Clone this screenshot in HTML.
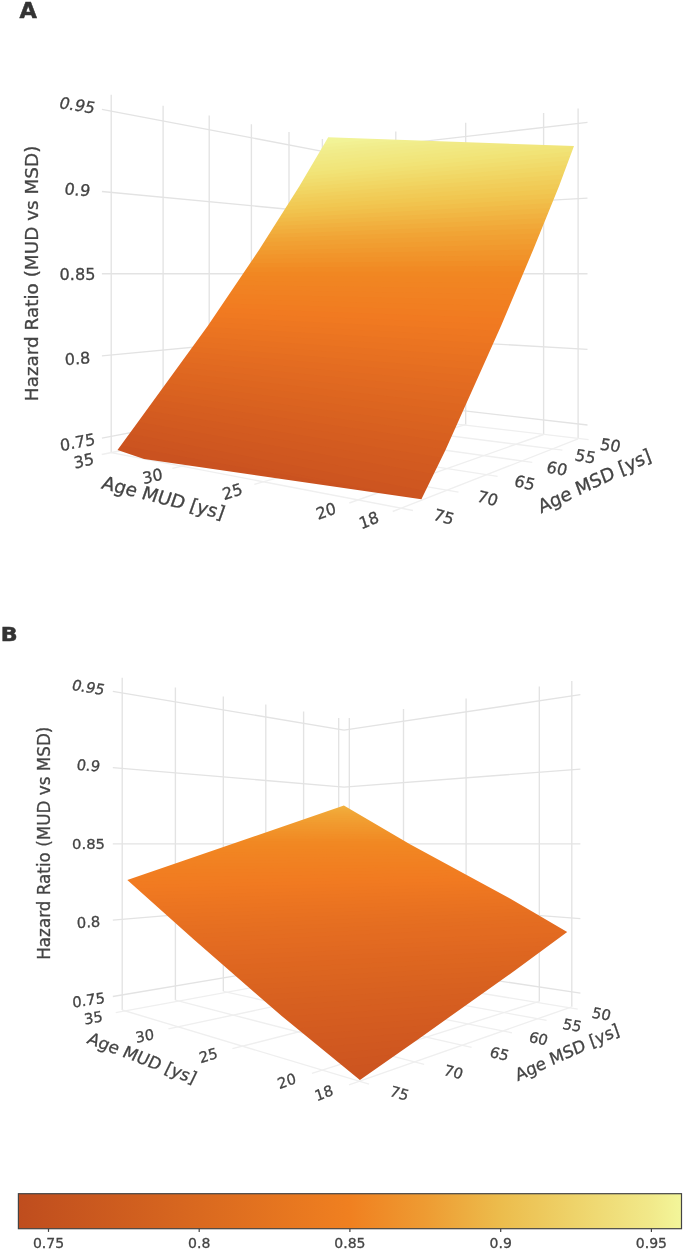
<!DOCTYPE html>
<html><head><meta charset="utf-8"><title>Figure</title>
<style>html,body{margin:0;padding:0;background:#fff}svg{display:block}</style></head>
<body>
<svg width="685" height="1251" viewBox="0 0 685 1251" font-family='&quot;DejaVu Sans&quot;, &quot;Liberation Sans&quot;, sans-serif'>
<rect width="685" height="1251" fill="#fff"/>
<g stroke="#e3e3e3" stroke-width="1.35" fill="none">
<line x1="111.2" y1="94.8" x2="111.2" y2="452.6"/>
<line x1="163.1" y1="105.7" x2="163.1" y2="441.7"/>
<line x1="209.2" y1="115.4" x2="209.2" y2="432.0"/>
<line x1="251.4" y1="124.2" x2="251.4" y2="423.2"/>
<line x1="289.0" y1="132.1" x2="289.0" y2="415.3"/>
<line x1="322.4" y1="139.1" x2="322.4" y2="408.3"/>
<line x1="101.9" y1="438.1" x2="327.8" y2="395.1"/>
<line x1="101.9" y1="355.9" x2="327.8" y2="334.4"/>
<line x1="101.9" y1="273.7" x2="327.8" y2="273.7"/>
<line x1="101.9" y1="191.5" x2="327.8" y2="213.0"/>
<line x1="101.9" y1="109.3" x2="327.8" y2="152.3"/>
<line x1="333.2" y1="139.5" x2="333.2" y2="407.9"/>
<line x1="395.8" y1="131.6" x2="395.8" y2="415.8"/>
<line x1="465.7" y1="122.7" x2="465.7" y2="424.7"/>
<line x1="543.6" y1="112.9" x2="543.6" y2="434.5"/>
<line x1="578.1" y1="108.5" x2="578.1" y2="438.9"/>
<line x1="327.8" y1="395.1" x2="587.5" y2="425.0"/>
<line x1="327.8" y1="334.4" x2="587.5" y2="349.3"/>
<line x1="327.8" y1="273.7" x2="587.5" y2="273.7"/>
<line x1="327.8" y1="213.0" x2="587.5" y2="198.1"/>
<line x1="327.8" y1="152.3" x2="587.5" y2="122.4"/>
<line x1="111.2" y1="452.6" x2="413.0" y2="510.5" stroke="#efefef"/>
<line x1="163.1" y1="441.7" x2="458.5" y2="492.2" stroke="#efefef"/>
<line x1="209.2" y1="432.0" x2="497.6" y2="476.4" stroke="#efefef"/>
<line x1="251.4" y1="423.2" x2="532.3" y2="462.4" stroke="#efefef"/>
<line x1="289.0" y1="415.3" x2="562.4" y2="450.2" stroke="#efefef"/>
<line x1="322.4" y1="408.3" x2="588.6" y2="439.7" stroke="#efefef"/>
<line x1="333.2" y1="407.9" x2="101.7" y2="454.5" stroke="#efefef"/>
<line x1="395.8" y1="415.8" x2="172.4" y2="468.3" stroke="#efefef"/>
<line x1="465.7" y1="424.7" x2="254.3" y2="484.4" stroke="#efefef"/>
<line x1="543.6" y1="434.5" x2="349.3" y2="503.0" stroke="#efefef"/>
<line x1="578.1" y1="438.9" x2="392.7" y2="511.5" stroke="#efefef"/>
</g>
<mask id="cA" maskUnits="userSpaceOnUse" x="0" y="0" width="685" height="1251"><polygon points="328.2,137.2 299.5,186.0 259.0,250.0 207.7,326.0 139.4,420.0 117.5,450.0 144.0,459.0 421.4,499.3 445.5,450.0 501.0,326.0 533.1,250.0 559.1,186.0 574.0,146.0" fill="#fff"/></mask>
<g mask="url(#cA)">
<rect x="116" y="135" width="460" height="366" fill="#f1f498"/>
<polygon points="950.8,82.2 -271.2,196.5 -271.2,1096.5 950.8,982.2" fill="#f2f396"/>
<polygon points="975.9,83.0 -273.2,200.1 -273.2,1100.1 975.9,983.0" fill="#f2f092"/>
<polygon points="1001.0,83.7 -275.3,203.8 -275.3,1103.8 1001.0,983.7" fill="#f1ee8e"/>
<polygon points="1026.2,84.4 -277.3,207.5 -277.3,1107.5 1026.2,984.4" fill="#f1ec8a"/>
<polygon points="1051.3,85.1 -279.4,211.2 -279.4,1111.2 1051.3,985.1" fill="#f1ea87"/>
<polygon points="1076.5,85.7 -281.4,215.0 -281.4,1115.0 1076.5,985.7" fill="#f1e984"/>
<polygon points="1101.6,86.4 -283.5,218.8 -283.5,1118.8 1101.6,986.4" fill="#f1e880"/>
<polygon points="1126.7,87.1 -285.6,222.6 -285.6,1122.6 1126.7,987.1" fill="#f1e67d"/>
<polygon points="1151.9,87.8 -287.7,226.5 -287.7,1126.5 1151.9,987.8" fill="#f1e57a"/>
<polygon points="1170.9,89.7 -289.9,229.8 -289.9,1129.8 1170.9,989.7" fill="#f1e376"/>
<polygon points="1169.4,96.1 -292.2,231.6 -292.2,1131.6 1169.4,996.1" fill="#f1e072"/>
<polygon points="1167.9,102.5 -294.5,233.4 -294.5,1133.4 1167.9,1002.5" fill="#f1dd6e"/>
<polygon points="1166.4,109.0 -296.9,235.2 -296.9,1135.2 1166.4,1009.0" fill="#f1da6a"/>
<polygon points="1164.8,115.6 -299.3,236.9 -299.3,1136.9 1164.8,1015.6" fill="#f1d765"/>
<polygon points="1163.3,122.3 -301.9,238.6 -301.9,1138.6 1163.3,1022.3" fill="#f1d461"/>
<polygon points="1161.7,129.1 -304.4,240.2 -304.4,1140.2 1161.7,1029.1" fill="#f1d05d"/>
<polygon points="1160.1,135.9 -307.0,241.9 -307.0,1141.9 1160.1,1035.9" fill="#f1cd59"/>
<polygon points="1158.5,142.8 -309.5,243.6 -309.5,1143.6 1158.5,1042.8" fill="#f1ca55"/>
<polygon points="1156.7,149.7 -312.1,245.4 -312.1,1145.4 1156.7,1049.7" fill="#f1c751"/>
<polygon points="1154.9,156.6 -314.7,247.1 -314.7,1147.1 1154.9,1056.6" fill="#f1c34e"/>
<polygon points="1153.1,163.5 -317.3,248.9 -317.3,1148.9 1153.1,1063.5" fill="#f1bf4a"/>
<polygon points="1151.2,170.6 -319.9,250.6 -319.9,1150.6 1151.2,1070.6" fill="#f1ba47"/>
<polygon points="1149.3,177.7 -322.5,252.4 -322.5,1152.4 1149.3,1077.7" fill="#f1b643"/>
<polygon points="1147.4,185.0 -325.2,254.2 -325.2,1154.2 1147.4,1085.0" fill="#f1b140"/>
<polygon points="1145.5,192.2 -327.8,256.0 -327.8,1156.0 1145.5,1092.2" fill="#f1ad3c"/>
<polygon points="1143.5,199.7 -330.5,257.7 -330.5,1157.7 1143.5,1099.7" fill="#f1a839"/>
<polygon points="1141.5,207.2 -333.1,259.4 -333.1,1159.4 1141.5,1107.2" fill="#f1a435"/>
<polygon points="1139.5,214.7 -335.8,261.2 -335.8,1161.2 1139.5,1114.7" fill="#f1a033"/>
<polygon points="1137.4,222.4 -338.5,262.9 -338.5,1162.9 1137.4,1122.4" fill="#f19d30"/>
<polygon points="1135.3,230.2 -341.2,264.6 -341.2,1164.6 1135.3,1130.2" fill="#f1992e"/>
<polygon points="1133.2,238.0 -344.1,266.3 -344.1,1166.3 1133.2,1138.0" fill="#f1952b"/>
<polygon points="1131.0,246.0 -347.0,267.9 -347.0,1167.9 1131.0,1146.0" fill="#f19229"/>
<polygon points="1128.7,254.0 -350.0,269.7 -350.0,1169.7 1128.7,1154.0" fill="#f18e26"/>
<polygon points="1126.4,262.2 -352.9,271.3 -352.9,1171.3 1126.4,1162.2" fill="#f18a24"/>
<polygon points="1124.0,270.4 -355.8,273.0 -355.8,1173.0 1124.0,1170.4" fill="#f18722"/>
<polygon points="1121.7,278.7 -358.8,274.7 -358.8,1174.7 1121.7,1178.7" fill="#f18522"/>
<polygon points="1119.2,287.2 -361.7,276.4 -361.7,1176.4 1119.2,1187.2" fill="#f18422"/>
<polygon points="1116.8,295.7 -364.7,278.1 -364.7,1178.1 1116.8,1195.7" fill="#f18222"/>
<polygon points="1114.3,304.4 -367.7,279.7 -367.7,1179.7 1114.3,1204.4" fill="#f18122"/>
<polygon points="1111.7,313.1 -370.7,281.3 -370.7,1181.3 1111.7,1213.1" fill="#f17f21"/>
<polygon points="1109.2,322.0 -373.7,283.0 -373.7,1183.0 1109.2,1222.0" fill="#f17e21"/>
<polygon points="1106.5,331.0 -376.7,284.6 -376.7,1184.6 1106.5,1231.0" fill="#f17c21"/>
<polygon points="1103.8,340.1 -379.7,286.2 -379.7,1186.2 1103.8,1240.1" fill="#f17a21"/>
<polygon points="1101.1,349.3 -382.8,287.9 -382.8,1187.9 1101.1,1249.3" fill="#f07921"/>
<polygon points="1098.2,358.8 -385.8,289.3 -385.8,1189.3 1098.2,1258.8" fill="#ee7721"/>
<polygon points="1095.2,368.4 -388.9,290.9 -388.9,1190.9 1095.2,1268.4" fill="#ed7621"/>
<polygon points="1092.2,378.0 -392.0,292.4 -392.0,1192.4 1092.2,1278.0" fill="#eb7421"/>
<polygon points="1089.1,387.8 -395.3,294.0 -395.3,1194.0 1089.1,1287.8" fill="#ea7321"/>
<polygon points="1086.0,397.6 -398.7,295.6 -398.7,1195.6 1086.0,1297.6" fill="#e87121"/>
<polygon points="1082.7,407.8 -402.0,297.1 -402.0,1197.1 1082.7,1307.8" fill="#e77021"/>
<polygon points="1079.5,417.9 -405.4,298.6 -405.4,1198.6 1079.5,1317.9" fill="#e56e21"/>
<polygon points="1076.1,428.2 -408.8,300.1 -408.8,1200.1 1076.1,1328.2" fill="#e46c21"/>
<polygon points="1072.7,438.7 -412.1,301.7 -412.1,1201.7 1072.7,1338.7" fill="#e26b21"/>
<polygon points="1069.2,449.3 -415.5,303.1 -415.5,1203.1 1069.2,1349.3" fill="#e16921"/>
<polygon points="1065.7,460.1 -418.9,304.7 -418.9,1204.7 1065.7,1360.1" fill="#df6821"/>
<polygon points="1062.1,470.9 -422.3,306.2 -422.3,1206.2 1062.1,1370.9" fill="#de6620"/>
<polygon points="1058.4,482.1 -425.7,307.6 -425.7,1207.6 1058.4,1382.1" fill="#dc6520"/>
<polygon points="1054.7,493.2 -429.2,309.2 -429.2,1209.2 1054.7,1393.2" fill="#db6320"/>
<polygon points="1050.8,504.7 -432.6,310.5 -432.6,1210.5 1050.8,1404.7" fill="#d96220"/>
<polygon points="1046.9,516.1 -436.0,312.1 -436.0,1212.1 1046.9,1416.1" fill="#d86020"/>
<polygon points="1042.9,528.0 -439.4,313.4 -439.4,1213.4 1042.9,1428.0" fill="#d65e20"/>
<polygon points="1038.8,539.7 -442.9,314.9 -442.9,1214.9 1038.8,1439.7" fill="#d55d20"/>
<polygon points="1034.2,552.3 -446.2,315.9 -446.2,1215.9 1034.2,1452.3" fill="#d35b20"/>
<polygon points="1029.5,565.1 -449.6,316.9 -449.6,1216.9 1029.5,1465.1" fill="#d25a20"/>
<polygon points="1024.6,578.2 -452.9,317.7 -452.9,1217.7 1024.6,1478.2" fill="#d05820"/>
<polygon points="1019.6,591.5 -456.2,318.6 -456.2,1218.6 1019.6,1491.5" fill="#cf5720"/>
<polygon points="1014.5,605.1 -459.5,319.4 -459.5,1219.4 1014.5,1505.1" fill="#cd5520"/>
<polygon points="1009.5,618.1 -462.9,320.6 -462.9,1220.6 1009.5,1518.1" fill="#cc5420"/>
<polygon points="1012.0,605.1 -469.8,339.6 -469.8,1239.6 1012.0,1505.1" fill="#ca5220"/>
</g>
<text transform="translate(28.3 17.9) scale(1.04 1)" font-size="21.6" text-anchor="middle" font-weight="bold" fill="#333" stroke="#333" stroke-width="0.5">A</text>
<text transform="translate(77.5 105.0) rotate(9.0) skewX(-8.0)" font-size="16.10" text-anchor="middle" dy="0.365em" font-weight="normal" fill="#444" stroke="#444" stroke-width="0.30">0.95</text>
<text transform="translate(77.5 189.5) rotate(4.5) skewX(-4.0)" font-size="16.10" text-anchor="middle" dy="0.365em" font-weight="normal" fill="#444" stroke="#444" stroke-width="0.30">0.9</text>
<text transform="translate(77.5 273.8)" font-size="16.10" text-anchor="middle" dy="0.365em" font-weight="normal" fill="#444" stroke="#444" stroke-width="0.30">0.85</text>
<text transform="translate(77.5 358.3) rotate(-4.5) skewX(-2.0)" font-size="16.10" text-anchor="middle" dy="0.365em" font-weight="normal" fill="#444" stroke="#444" stroke-width="0.30">0.8</text>
<text transform="translate(77.5 442.0) rotate(-11.0) skewX(-4.0)" font-size="16.10" text-anchor="middle" dy="0.365em" font-weight="normal" fill="#444" stroke="#444" stroke-width="0.30">0.75</text>
<text transform="translate(38.0 401.2) rotate(-90.0)" font-size="18.40" text-anchor="start" font-weight="normal" fill="#444" stroke="#444" stroke-width="0.30">Hazard Ratio (MUD vs MSD)</text>
<text transform="translate(83.8 460.5) rotate(-13.0) skewX(-4.0)" font-size="16.10" text-anchor="middle" dy="0.365em" font-weight="normal" fill="#444" stroke="#444" stroke-width="0.30">35</text>
<text transform="translate(152.5 476.0) rotate(-14.0) skewX(-4.0)" font-size="16.10" text-anchor="middle" dy="0.365em" font-weight="normal" fill="#444" stroke="#444" stroke-width="0.30">30</text>
<text transform="translate(232.2 491.3) rotate(-18.0) skewX(-4.0)" font-size="16.10" text-anchor="middle" dy="0.365em" font-weight="normal" fill="#444" stroke="#444" stroke-width="0.30">25</text>
<text transform="translate(325.9 510.9) rotate(-20.0) skewX(-4.0)" font-size="16.10" text-anchor="middle" dy="0.365em" font-weight="normal" fill="#444" stroke="#444" stroke-width="0.30">20</text>
<text transform="translate(368.8 520.0) rotate(-22.0) skewX(-4.0)" font-size="16.10" text-anchor="middle" dy="0.365em" font-weight="normal" fill="#444" stroke="#444" stroke-width="0.30">18</text>
<text transform="translate(100.5 488.3) rotate(14.3) skewX(-5.0)" font-size="18.40" text-anchor="start" font-weight="normal" fill="#444" stroke="#444" stroke-width="0.30">Age MUD [ys]</text>
<text transform="translate(444.0 516.6) rotate(15.0) skewX(-4.0)" font-size="16.10" text-anchor="middle" dy="0.365em" font-weight="normal" fill="#444" stroke="#444" stroke-width="0.30">75</text>
<text transform="translate(487.7 498.1) rotate(14.0) skewX(-4.0)" font-size="16.10" text-anchor="middle" dy="0.365em" font-weight="normal" fill="#444" stroke="#444" stroke-width="0.30">70</text>
<text transform="translate(525.0 482.5) rotate(12.0) skewX(-4.0)" font-size="16.10" text-anchor="middle" dy="0.365em" font-weight="normal" fill="#444" stroke="#444" stroke-width="0.30">65</text>
<text transform="translate(557.1 468.2) rotate(10.0) skewX(-4.0)" font-size="16.10" text-anchor="middle" dy="0.365em" font-weight="normal" fill="#444" stroke="#444" stroke-width="0.30">60</text>
<text transform="translate(585.5 456.2) rotate(9.0) skewX(-4.0)" font-size="16.10" text-anchor="middle" dy="0.365em" font-weight="normal" fill="#444" stroke="#444" stroke-width="0.30">55</text>
<text transform="translate(610.5 445.1) rotate(8.0) skewX(-4.0)" font-size="16.10" text-anchor="middle" dy="0.365em" font-weight="normal" fill="#444" stroke="#444" stroke-width="0.30">50</text>
<text transform="translate(540.9 513.6) rotate(-25.5) skewX(-5.0)" font-size="18.40" text-anchor="start" font-weight="normal" fill="#444" stroke="#444" stroke-width="0.30">Age MSD [ys]</text>
<g stroke="#e3e3e3" stroke-width="1.35" fill="none">
<line x1="122.2" y1="677.8" x2="122.2" y2="1010.0"/>
<line x1="175.4" y1="687.6" x2="175.4" y2="1000.2"/>
<line x1="223.3" y1="696.5" x2="223.3" y2="991.3"/>
<line x1="265.8" y1="704.4" x2="265.8" y2="983.4"/>
<line x1="303.6" y1="711.4" x2="303.6" y2="976.4"/>
<line x1="338.7" y1="717.9" x2="338.7" y2="969.9"/>
<line x1="112.8" y1="996.5" x2="344.0" y2="957.6"/>
<line x1="112.8" y1="920.2" x2="344.0" y2="900.7"/>
<line x1="112.8" y1="843.9" x2="344.0" y2="843.9"/>
<line x1="112.8" y1="767.6" x2="344.0" y2="787.1"/>
<line x1="112.8" y1="691.3" x2="344.0" y2="730.2"/>
<line x1="349.3" y1="718.0" x2="349.3" y2="969.8"/>
<line x1="403.5" y1="709.0" x2="403.5" y2="978.8"/>
<line x1="466.1" y1="698.6" x2="466.1" y2="989.2"/>
<line x1="539.3" y1="686.4" x2="539.3" y2="1001.4"/>
<line x1="571.8" y1="681.0" x2="571.8" y2="1006.8"/>
<line x1="344.0" y1="957.6" x2="580.4" y2="993.2"/>
<line x1="344.0" y1="900.7" x2="580.4" y2="918.6"/>
<line x1="344.0" y1="843.9" x2="580.4" y2="843.9"/>
<line x1="344.0" y1="787.1" x2="580.4" y2="769.2"/>
<line x1="344.0" y1="730.2" x2="580.4" y2="694.6"/>
<line x1="122.2" y1="1010.0" x2="369.0" y2="1084.2" stroke="#efefef"/>
<line x1="175.4" y1="1000.2" x2="424.2" y2="1064.4" stroke="#efefef"/>
<line x1="223.3" y1="991.3" x2="471.6" y2="1047.3" stroke="#efefef"/>
<line x1="265.8" y1="983.4" x2="512.0" y2="1032.8" stroke="#efefef"/>
<line x1="303.6" y1="976.4" x2="546.6" y2="1020.3" stroke="#efefef"/>
<line x1="338.7" y1="969.9" x2="577.7" y2="1009.1" stroke="#efefef"/>
<line x1="349.3" y1="969.8" x2="115.7" y2="1012.6" stroke="#efefef"/>
<line x1="403.5" y1="978.8" x2="168.4" y2="1028.9" stroke="#efefef"/>
<line x1="466.1" y1="989.2" x2="232.4" y2="1048.7" stroke="#efefef"/>
<line x1="539.3" y1="1001.4" x2="311.9" y2="1073.3" stroke="#efefef"/>
<line x1="571.8" y1="1006.8" x2="349.0" y2="1084.8" stroke="#efefef"/>
</g>
<mask id="cB" maskUnits="userSpaceOnUse" x="0" y="0" width="685" height="1251"><polygon points="343.9,805.5 127.3,879.9 194.4,940.0 281.7,1016.0 359.9,1080.1 420.0,1037.9 515.6,970.0 567.2,932.0 510.0,898.6 410.0,844.2" fill="#fff"/></mask>
<g mask="url(#cB)">
<rect x="125" y="804" width="444" height="279" fill="#f1b03f"/>
<polygon points="947.5,813.6 -261.9,801.5 -261.9,1701.5 947.5,1713.6" fill="#f1ac3b"/>
<polygon points="951.1,815.4 -267.8,803.9 -267.8,1703.9 951.1,1715.4" fill="#f1a939"/>
<polygon points="954.7,818.1 -273.7,805.3 -273.7,1705.3 954.7,1718.1" fill="#f1a637"/>
<polygon points="958.4,820.7 -279.5,806.8 -279.5,1706.8 958.4,1720.7" fill="#f1a335"/>
<polygon points="962.1,822.6 -285.6,809.2 -285.6,1709.2 962.1,1722.6" fill="#f1a133"/>
<polygon points="965.8,823.8 -291.9,812.3 -291.9,1712.3 965.8,1723.8" fill="#f19f32"/>
<polygon points="969.6,825.5 -298.3,815.1 -298.3,1715.1 969.6,1725.5" fill="#f19d30"/>
<polygon points="973.4,827.5 -304.6,817.4 -304.6,1717.4 973.4,1727.5" fill="#f19a2f"/>
<polygon points="977.2,829.6 -311.0,819.8 -311.0,1719.8 977.2,1729.6" fill="#f1982d"/>
<polygon points="981.2,831.0 -317.9,823.0 -317.9,1723.0 981.2,1731.0" fill="#f1962c"/>
<polygon points="985.1,832.6 -324.7,826.1 -324.7,1726.1 985.1,1732.6" fill="#f1942a"/>
<polygon points="989.1,834.6 -331.5,828.7 -331.5,1728.7 989.1,1734.6" fill="#f19129"/>
<polygon points="993.1,836.6 -338.4,831.5 -338.4,1731.5 993.1,1736.6" fill="#f18f27"/>
<polygon points="997.1,838.2 -345.8,834.8 -345.8,1734.8 997.1,1738.2" fill="#f18d26"/>
<polygon points="1001.2,839.9 -353.1,837.9 -353.1,1737.9 1001.2,1739.9" fill="#f18a24"/>
<polygon points="1005.3,842.0 -360.4,840.8 -360.4,1740.8 1005.3,1742.0" fill="#f18823"/>
<polygon points="1009.5,843.8 -368.0,844.1 -368.0,1744.1 1009.5,1743.8" fill="#f18722"/>
<polygon points="1014.0,845.6 -375.9,847.4 -375.9,1747.4 1014.0,1745.6" fill="#f18622"/>
<polygon points="1018.6,847.6 -383.7,850.7 -383.7,1750.7 1018.6,1747.6" fill="#f18522"/>
<polygon points="1023.2,849.6 -391.6,853.8 -391.6,1753.8 1023.2,1749.6" fill="#f18422"/>
<polygon points="1028.0,851.5 -400.0,857.5 -400.0,1757.5 1028.0,1751.5" fill="#f18322"/>
<polygon points="1032.7,853.4 -408.4,861.0 -408.4,1761.0 1032.7,1753.4" fill="#f18222"/>
<polygon points="1037.5,855.5 -416.8,864.4 -416.8,1764.4 1037.5,1755.5" fill="#f18122"/>
<polygon points="1042.4,857.5 -425.7,868.1 -425.7,1768.1 1042.4,1757.5" fill="#f18021"/>
<polygon points="1047.2,859.4 -434.6,871.9 -434.6,1771.9 1047.2,1759.4" fill="#f17f21"/>
<polygon points="1052.2,861.7 -443.6,875.4 -443.6,1775.4 1052.2,1761.7" fill="#f17e21"/>
<polygon points="1057.2,862.6 -454.6,881.0 -454.6,1781.0 1057.2,1762.6" fill="#f17d21"/>
<polygon points="1062.3,863.5 -466.2,886.9 -466.2,1786.9 1062.3,1763.5" fill="#f17c21"/>
<polygon points="1067.4,864.9 -470.9,892.0 -470.9,1792.0 1067.4,1764.9" fill="#f17b21"/>
<polygon points="1072.6,866.7 -467.1,896.5 -467.1,1796.5 1072.6,1766.7" fill="#f17a21"/>
<polygon points="1077.8,868.7 -463.2,900.8 -463.2,1800.8 1077.8,1768.7" fill="#f07921"/>
<polygon points="1083.1,870.5 -459.2,905.4 -459.2,1805.4 1083.1,1770.5" fill="#ef7821"/>
<polygon points="1088.5,872.4 -455.2,910.0 -455.2,1810.0 1088.5,1772.4" fill="#ee7721"/>
<polygon points="1094.0,874.3 -451.2,914.7 -451.2,1814.7 1094.0,1774.3" fill="#ed7621"/>
<polygon points="1099.4,876.3 -447.1,919.4 -447.1,1819.4 1099.4,1776.3" fill="#ec7521"/>
<polygon points="1105.0,878.2 -442.8,924.2 -442.8,1824.2 1105.0,1778.2" fill="#eb7421"/>
<polygon points="1110.6,880.1 -438.6,929.1 -438.6,1829.1 1110.6,1780.1" fill="#ea7321"/>
<polygon points="1115.8,882.0 -434.3,934.2 -434.3,1834.2 1115.8,1782.0" fill="#e97221"/>
<polygon points="1121.1,883.9 -429.9,939.3 -429.9,1839.3 1121.1,1783.9" fill="#e87121"/>
<polygon points="1126.5,885.8 -425.4,944.6 -425.4,1844.6 1126.5,1785.8" fill="#e77021"/>
<polygon points="1131.9,887.7 -420.9,949.8 -420.9,1849.8 1131.9,1787.7" fill="#e66f21"/>
<polygon points="1137.4,889.6 -416.3,955.3 -416.3,1855.3 1137.4,1789.6" fill="#e56e21"/>
<polygon points="1143.0,891.5 -411.6,960.8 -411.6,1860.8 1143.0,1791.5" fill="#e46d21"/>
<polygon points="1148.6,893.4 -406.9,966.4 -406.9,1866.4 1148.6,1793.4" fill="#e46c21"/>
<polygon points="1154.3,895.2 -401.9,972.2 -401.9,1872.2 1154.3,1795.2" fill="#e36b21"/>
<polygon points="1166.0,908.9 -397.2,970.6 -397.2,1870.6 1166.0,1808.9" fill="#e26a21"/>
<polygon points="1159.9,912.6 -392.1,975.8 -392.1,1875.8 1159.9,1812.6" fill="#e16921"/>
<polygon points="1154.0,915.8 -386.8,981.4 -386.8,1881.4 1154.0,1815.8" fill="#e06821"/>
<polygon points="1147.9,919.1 -381.5,987.1 -381.5,1887.1 1147.9,1819.1" fill="#df6721"/>
<polygon points="1141.7,922.5 -376.1,993.0 -376.1,1893.0 1141.7,1822.5" fill="#de6620"/>
<polygon points="1135.2,926.1 -370.6,998.8 -370.6,1898.8 1135.2,1826.1" fill="#dd6620"/>
<polygon points="1128.6,929.6 -365.0,1005.0 -365.0,1905.0 1128.6,1829.6" fill="#dc6520"/>
<polygon points="1121.9,933.3 -359.3,1011.1 -359.3,1911.1 1121.9,1833.3" fill="#db6420"/>
<polygon points="1114.9,937.1 -353.4,1017.4 -353.4,1917.4 1114.9,1837.1" fill="#da6320"/>
<polygon points="1107.3,941.4 -347.5,1023.6 -347.5,1923.6 1107.3,1841.4" fill="#d96220"/>
<polygon points="1099.5,945.7 -341.5,1029.9 -341.5,1929.9 1099.5,1845.7" fill="#d86120"/>
<polygon points="1091.5,950.1 -335.4,1036.4 -335.4,1936.4 1091.5,1850.1" fill="#d76020"/>
<polygon points="1083.2,955.0 -329.2,1042.8 -329.2,1942.8 1083.2,1855.0" fill="#d65f20"/>
<polygon points="1074.6,959.8 -322.8,1049.5 -322.8,1949.5 1074.6,1859.8" fill="#d65e20"/>
<polygon points="1065.9,964.9 -316.3,1056.1 -316.3,1956.1 1065.9,1864.9" fill="#d55d20"/>
<polygon points="1056.7,969.6 -309.0,1063.7 -309.0,1963.7 1056.7,1869.6" fill="#d45c20"/>
<polygon points="1047.2,974.4 -301.6,1071.5 -301.6,1971.5 1047.2,1874.4" fill="#d35b20"/>
<polygon points="1037.4,979.3 -294.1,1079.5 -294.1,1979.5 1037.4,1879.3" fill="#d25a20"/>
<polygon points="1027.3,984.2 -286.3,1087.9 -286.3,1987.9 1027.3,1884.2" fill="#d15920"/>
<polygon points="1016.7,988.8 -278.4,1096.9 -278.4,1996.9 1016.7,1888.8" fill="#d05820"/>
<polygon points="1005.6,993.7 -270.2,1106.2 -270.2,2006.2 1005.6,1893.7" fill="#cf5720"/>
<polygon points="993.9,997.9 -261.8,1116.5 -261.8,2016.5 993.9,1897.9" fill="#ce5620"/>
<polygon points="981.6,1000.6 -253.0,1128.9 -253.0,2028.9 981.6,1900.6" fill="#cd5520"/>
<polygon points="968.3,1000.1 -243.7,1144.7 -243.7,2044.7 968.3,1900.1" fill="#cc5420"/>
</g>
<text transform="translate(9.2 641.2) scale(1.14 1)" font-size="19.4" text-anchor="middle" font-weight="bold" fill="#333" stroke="#333" stroke-width="0.5">B</text>
<text transform="translate(88.5 687.1) rotate(9.0) skewX(-8.0)" font-size="14.80" text-anchor="middle" dy="0.365em" font-weight="normal" fill="#444" stroke="#444" stroke-width="0.30">0.95</text>
<text transform="translate(88.5 765.3) rotate(4.5) skewX(-4.0)" font-size="14.80" text-anchor="middle" dy="0.365em" font-weight="normal" fill="#444" stroke="#444" stroke-width="0.30">0.9</text>
<text transform="translate(88.5 843.4)" font-size="14.80" text-anchor="middle" dy="0.365em" font-weight="normal" fill="#444" stroke="#444" stroke-width="0.30">0.85</text>
<text transform="translate(88.5 922.0) rotate(-4.5) skewX(-2.0)" font-size="14.80" text-anchor="middle" dy="0.365em" font-weight="normal" fill="#444" stroke="#444" stroke-width="0.30">0.8</text>
<text transform="translate(88.5 999.8) rotate(-8.5) skewX(-4.0)" font-size="14.80" text-anchor="middle" dy="0.365em" font-weight="normal" fill="#444" stroke="#444" stroke-width="0.30">0.75</text>
<text transform="translate(49.5 959.8) rotate(-90.0)" font-size="16.80" text-anchor="start" font-weight="normal" fill="#444" stroke="#444" stroke-width="0.30">Hazard Ratio (MUD vs MSD)</text>
<text transform="translate(93.4 1017.6) rotate(-11.0) skewX(-4.0)" font-size="14.80" text-anchor="middle" dy="0.365em" font-weight="normal" fill="#444" stroke="#444" stroke-width="0.30">35</text>
<text transform="translate(144.8 1035.6) rotate(-12.0) skewX(-4.0)" font-size="14.80" text-anchor="middle" dy="0.365em" font-weight="normal" fill="#444" stroke="#444" stroke-width="0.30">30</text>
<text transform="translate(208.2 1055.2) rotate(-17.0) skewX(-4.0)" font-size="14.80" text-anchor="middle" dy="0.365em" font-weight="normal" fill="#444" stroke="#444" stroke-width="0.30">25</text>
<text transform="translate(286.7 1080.9) rotate(-20.0) skewX(-4.0)" font-size="14.80" text-anchor="middle" dy="0.365em" font-weight="normal" fill="#444" stroke="#444" stroke-width="0.30">20</text>
<text transform="translate(323.9 1092.8) rotate(-22.0) skewX(-4.0)" font-size="14.80" text-anchor="middle" dy="0.365em" font-weight="normal" fill="#444" stroke="#444" stroke-width="0.30">18</text>
<text transform="translate(86.0 1042.8) rotate(21.0) skewX(-5.0)" font-size="16.80" text-anchor="start" font-weight="normal" fill="#444" stroke="#444" stroke-width="0.30">Age MUD [ys]</text>
<text transform="translate(399.5 1093.1) rotate(15.0) skewX(-4.0)" font-size="14.80" text-anchor="middle" dy="0.365em" font-weight="normal" fill="#444" stroke="#444" stroke-width="0.30">75</text>
<text transform="translate(453.6 1071.9) rotate(14.0) skewX(-4.0)" font-size="14.80" text-anchor="middle" dy="0.365em" font-weight="normal" fill="#444" stroke="#444" stroke-width="0.30">70</text>
<text transform="translate(499.5 1053.6) rotate(13.0) skewX(-4.0)" font-size="14.80" text-anchor="middle" dy="0.365em" font-weight="normal" fill="#444" stroke="#444" stroke-width="0.30">65</text>
<text transform="translate(538.6 1038.4) rotate(12.0) skewX(-4.0)" font-size="14.80" text-anchor="middle" dy="0.365em" font-weight="normal" fill="#444" stroke="#444" stroke-width="0.30">60</text>
<text transform="translate(572.3 1025.0) rotate(10.0) skewX(-4.0)" font-size="14.80" text-anchor="middle" dy="0.365em" font-weight="normal" fill="#444" stroke="#444" stroke-width="0.30">55</text>
<text transform="translate(601.5 1013.8) rotate(10.0) skewX(-4.0)" font-size="14.80" text-anchor="middle" dy="0.365em" font-weight="normal" fill="#444" stroke="#444" stroke-width="0.30">50</text>
<text transform="translate(517.7 1081.3) rotate(-24.5) skewX(-5.0)" font-size="16.80" text-anchor="start" font-weight="normal" fill="#444" stroke="#444" stroke-width="0.30">Age MSD [ys]</text>
<defs><linearGradient id="cb" x1="0" x2="1" y1="0" y2="0"><stop offset="0.000" stop-color="#bf4d1e"/><stop offset="0.500" stop-color="#f08020"/><stop offset="0.613" stop-color="#ee9b32"/><stop offset="0.726" stop-color="#ecbc4c"/><stop offset="0.839" stop-color="#eed36a"/><stop offset="0.954" stop-color="#f1e98a"/><stop offset="1.000" stop-color="#f3f69a"/></linearGradient></defs>
<rect x="18.4" y="1193.7" width="663.1" height="35.0" fill="url(#cb)" stroke="#444" stroke-width="1.2"/>
<line x1="48.5" y1="1228.7" x2="48.5" y2="1231.9" stroke="#444" stroke-width="1.2"/>
<text transform="translate(48.5 1248.0)" font-size="14.00" text-anchor="middle" font-weight="normal" fill="#444" stroke="#444" stroke-width="0.30">0.75</text>
<line x1="199.2" y1="1228.7" x2="199.2" y2="1231.9" stroke="#444" stroke-width="1.2"/>
<text transform="translate(199.2 1248.0)" font-size="14.00" text-anchor="middle" font-weight="normal" fill="#444" stroke="#444" stroke-width="0.30">0.8</text>
<line x1="349.9" y1="1228.7" x2="349.9" y2="1231.9" stroke="#444" stroke-width="1.2"/>
<text transform="translate(349.9 1248.0)" font-size="14.00" text-anchor="middle" font-weight="normal" fill="#444" stroke="#444" stroke-width="0.30">0.85</text>
<line x1="500.7" y1="1228.7" x2="500.7" y2="1231.9" stroke="#444" stroke-width="1.2"/>
<text transform="translate(500.7 1248.0)" font-size="14.00" text-anchor="middle" font-weight="normal" fill="#444" stroke="#444" stroke-width="0.30">0.9</text>
<line x1="651.4" y1="1228.7" x2="651.4" y2="1231.9" stroke="#444" stroke-width="1.2"/>
<text transform="translate(651.4 1248.0)" font-size="14.00" text-anchor="middle" font-weight="normal" fill="#444" stroke="#444" stroke-width="0.30">0.95</text>
</svg>
</body></html>
